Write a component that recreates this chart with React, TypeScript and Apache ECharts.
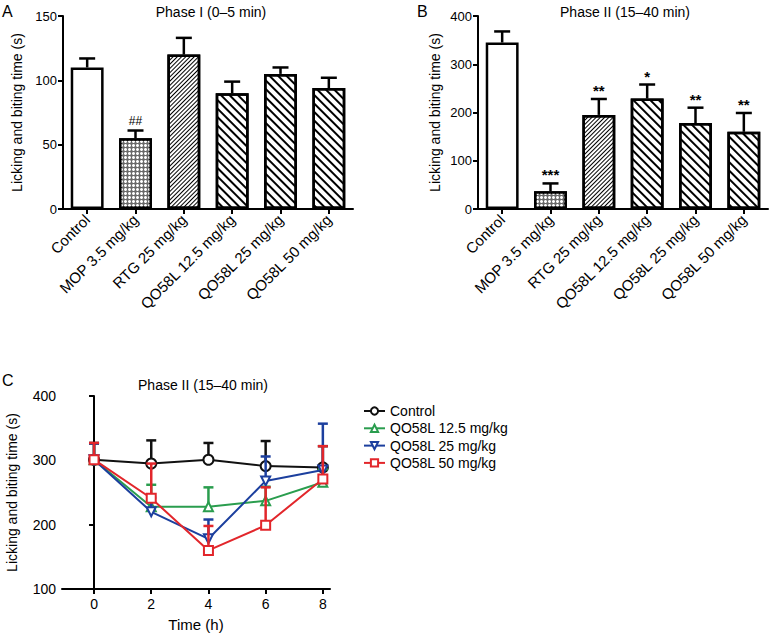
import React, { useEffect, useRef } from 'react';
import * as echarts from 'echarts';

// ---------- data ----------
const barCategories = ['Control', 'MOP 3.5 mg/kg', 'RTG 25 mg/kg', 'QO58L 12.5 mg/kg', 'QO58L 25 mg/kg', 'QO58L 50 mg/kg'];
const phase1Values = [110, 55, 120, 90, 105, 94];
const phase1Sem = [7, 6, 13, 9, 5, 8];
const phase1Marks = ['', '##', '', '', '', ''];
const phase2Values = [345, 37, 195, 229, 178, 160];
const phase2Sem = [23, 16, 33, 29, 32, 39];
const phase2Marks = ['', '***', '**', '*', '**', '**'];

const timePoints = [0, 2, 4, 6, 8];
const lineNames = ['Control', 'QO58L 12.5 mg/kg', 'QO58L 25 mg/kg', 'QO58L 50 mg/kg'];
const controlTime = [301, 295, 301, 291, 289];
const controlTimeSem = [26, 36, 26, 39, 33];
const dose12Time = [301, 228, 228, 237, 266];
const dose12TimeSem = [25, 34, 30, 22, 20];
const dose25Time = [301, 220, 178, 268, 285];
const dose25TimeSem = [25, 22, 30, 38, 72];
const dose50Time = [301, 241, 160, 199, 271];
const dose50TimeSem = [26, 54, 38, 59, 51];

const yTicksA = { min: 0, max: 150, interval: 50 };
const yTicksB = { min: 0, max: 400, interval: 100 };
const yTicksC = { min: 100, max: 400, interval: 100 };
const xTicksC = [0, 2, 4, 6, 8];

// ---------- styles ----------
const FONT = '"Liberation Sans", Arial, Helvetica, sans-serif';
const lineColors = ['#111111', '#2a9d4e', '#1c3f9e', '#e2262b'];
const lineSymbols = ['emptyCircle', 'emptyTriangle', 'emptyTriangle', 'emptyRect'];
const lineSymbolRotate = [0, 0, 180, 0];

const decalDots = {
  symbol: 'circle', symbolSize: 1, color: '#ffffff',
  dashArrayX: [3, 0.8], dashArrayY: [3, 0.8],
};
const decalFine = {
  symbol: 'rect', symbolSize: 1, color: '#000000',
  dashArrayX: [1, 0], dashArrayY: [1, 2], rotation: -Math.PI / 4,
};
const decalCoarse = {
  symbol: 'rect', symbolSize: 1, color: '#000000',
  dashArrayX: [1, 0], dashArrayY: [2, 3.5], rotation: Math.PI / 4,
};
const barFills = ['#ffffff', '#6a6a6a', '#ffffff', '#ffffff', '#ffffff', '#ffffff'];
const barDecals: any[] = [null, decalDots, decalFine, decalCoarse, decalCoarse, decalCoarse];

function barSeries(values: number[], xi: number) {
  return {
    type: 'bar',
    xAxisIndex: xi,
    yAxisIndex: xi,
    barWidth: '68%',
    z: 2,
    data: values.map((v, i) => ({
      value: v,
      itemStyle: {
        color: barFills[i],
        borderColor: '#000',
        borderWidth: 2.5,
        ...(barDecals[i] ? { decal: barDecals[i] } : {}),
      },
    })),
  };
}

function barErrSeries(values: number[], sem: number[], marks: string[], xi: number) {
  return {
    type: 'custom',
    xAxisIndex: xi,
    yAxisIndex: xi,
    z: 3,
    data: values.map((v, i) => [i, v, sem[i]]),
    renderItem: (params: any, api: any) => {
      const i = api.value(0);
      const v = api.value(1);
      const e = api.value(2);
      const p0 = api.coord([i, v]);
      const p1 = api.coord([i, v + e]);
      const children: any[] = [
        { type: 'line', shape: { x1: p0[0], y1: p0[1], x2: p1[0], y2: p1[1] }, style: { stroke: '#000', lineWidth: 2.5 } },
        { type: 'line', shape: { x1: p1[0] - 8, y1: p1[1], x2: p1[0] + 8, y2: p1[1] }, style: { stroke: '#000', lineWidth: 2.5 } },
      ];
      const m = marks[params.dataIndex];
      if (m) {
        const isHash = m.indexOf('#') >= 0;
        children.push({
          type: 'text',
          x: p1[0],
          y: p1[1] - (isHash ? 4 : 1),
          style: {
            text: m, fill: '#000',
            font: (isHash ? '12px ' : 'bold 15px ') + FONT,
            textAlign: 'center', textVerticalAlign: 'bottom',
          },
        });
      }
      return { type: 'group', children };
    },
  };
}

function lineSeries(idx: number, values: number[]) {
  return {
    type: 'line',
    name: lineNames[idx],
    xAxisIndex: 2,
    yAxisIndex: 2,
    z: 4 + idx * 2,
    symbol: lineSymbols[idx],
    symbolSize: idx === 0 ? 10 : 9,
    symbolRotate: lineSymbolRotate[idx],
    lineStyle: { color: lineColors[idx], width: 2 },
    itemStyle: { color: lineColors[idx], borderColor: lineColors[idx], borderWidth: 2 },
    data: values.map((v, i) => [timePoints[i], v]),
  };
}

function lineErrSeries(idx: number, values: number[], sem: number[]) {
  return {
    type: 'custom',
    xAxisIndex: 2,
    yAxisIndex: 2,
    z: 3 + idx * 2,
    data: values.map((v, i) => [timePoints[i], v, sem[i]]),
    renderItem: (params: any, api: any) => {
      const x = api.value(0);
      const v = api.value(1);
      const e = api.value(2);
      const p0 = api.coord([x, v]);
      const p1 = api.coord([x, v + e]);
      return {
        type: 'group',
        children: [
          { type: 'line', shape: { x1: p0[0], y1: p0[1], x2: p1[0], y2: p1[1] }, style: { stroke: lineColors[idx], lineWidth: 2.5 } },
          { type: 'line', shape: { x1: p1[0] - 5, y1: p1[1], x2: p1[0] + 5, y2: p1[1] }, style: { stroke: lineColors[idx], lineWidth: 2.5 } },
        ],
      };
    },
  };
}

const axisLine = { show: true, lineStyle: { color: '#000', width: 2 } };
const axisTick = { show: true, length: 5, lineStyle: { color: '#000', width: 2 } };
const axisLabel = { color: '#000', fontSize: 13, fontFamily: FONT };
const yName = 'Licking and biting time (s)';
const nameStyle = { color: '#000', fontSize: 14, fontFamily: FONT };

export default function App() {
  const ref = useRef<HTMLDivElement>(null);
  useEffect(() => {
    if (!ref.current) return;
    const chart = echarts.init(ref.current, undefined, { renderer: 'svg' });
    const option: any = {
      animation: false,
      backgroundColor: '#fff',
      textStyle: { fontFamily: FONT },
      grid: [
        { left: 63, top: 16, width: 290, height: 193 },
        { left: 478, top: 16, width: 290, height: 193 },
        { left: 62, top: 396, width: 268, height: 193 },
      ],
      xAxis: [
        {
          type: 'category', gridIndex: 0, data: barCategories,
          axisLine, axisTick: { ...axisTick, alignWithLabel: true },
          axisLabel: { ...axisLabel, fontSize: 15, rotate: 45, margin: 8, interval: 0 },
        },
        {
          type: 'category', gridIndex: 1, data: barCategories,
          axisLine, axisTick: { ...axisTick, alignWithLabel: true },
          axisLabel: { ...axisLabel, fontSize: 15, rotate: 45, margin: 8, interval: 0 },
        },
        {
          type: 'value', gridIndex: 2, min: -1.12, max: 8.25,
          splitLine: { show: false },
          axisLine, axisTick: { ...axisTick, customValues: xTicksC },
          axisLabel: { ...axisLabel, fontSize: 14, customValues: xTicksC, margin: 8 },
          name: 'Time (h)', nameLocation: 'middle', nameGap: 28, nameTextStyle: { ...nameStyle, fontSize: 15 },
        },
      ],
      yAxis: [
        {
          type: 'value', gridIndex: 0, ...yTicksA,
          splitLine: { show: false }, axisLine, axisTick, axisLabel: { ...axisLabel, margin: 6 },
          name: yName, nameLocation: 'middle', nameGap: 39, nameTextStyle: nameStyle,
        },
        {
          type: 'value', gridIndex: 1, ...yTicksB,
          splitLine: { show: false }, axisLine, axisTick, axisLabel: { ...axisLabel, margin: 6 },
          name: yName, nameLocation: 'middle', nameGap: 36, nameTextStyle: nameStyle,
        },
        {
          type: 'value', gridIndex: 2, ...yTicksC,
          splitLine: { show: false }, axisLine, axisTick, axisLabel: { ...axisLabel, fontSize: 14, margin: 6 },
          name: yName, nameLocation: 'middle', nameGap: 43, nameTextStyle: nameStyle,
        },
      ],
      legend: {
        orient: 'vertical', left: 358, top: 399,
        itemWidth: 21, itemHeight: 9, itemGap: 3.3,
        textStyle: { color: '#000', fontSize: 14, fontFamily: FONT },
        data: lineNames,
      },
      graphic: [
        { type: 'text', left: 2, top: 3, style: { text: 'A', font: '16px ' + FONT, fill: '#000' } },
        { type: 'text', left: 417, top: 3, style: { text: 'B', font: '16px ' + FONT, fill: '#000' } },
        { type: 'text', left: 2, top: 372, style: { text: 'C', font: '16px ' + FONT, fill: '#000' } },
        { type: 'text', x: 211, y: 12, style: { text: 'Phase I (0–5 min)', font: '14px ' + FONT, fill: '#000', textAlign: 'center', textVerticalAlign: 'middle' } },
        { type: 'text', x: 625, y: 12, style: { text: 'Phase II (15–40 min)', font: '14px ' + FONT, fill: '#000', textAlign: 'center', textVerticalAlign: 'middle' } },
        { type: 'text', x: 203, y: 385, style: { text: 'Phase II (15–40 min)', font: '14px ' + FONT, fill: '#000', textAlign: 'center', textVerticalAlign: 'middle' } },
      ],
      series: [
        barSeries(phase1Values, 0),
        barErrSeries(phase1Values, phase1Sem, phase1Marks, 0),
        barSeries(phase2Values, 1),
        barErrSeries(phase2Values, phase2Sem, phase2Marks, 1),
        lineErrSeries(0, controlTime, controlTimeSem),
        lineSeries(0, controlTime),
        lineErrSeries(1, dose12Time, dose12TimeSem),
        lineSeries(1, dose12Time),
        lineErrSeries(2, dose25Time, dose25TimeSem),
        lineSeries(2, dose25Time),
        lineErrSeries(3, dose50Time, dose50TimeSem),
        lineSeries(3, dose50Time),
      ],
    };
    chart.setOption(option);
    return () => chart.dispose();
  }, []);
  return <div ref={ref} style={{ position: 'absolute', left: 0, top: 0, width: 773, height: 636 }} />;
}
